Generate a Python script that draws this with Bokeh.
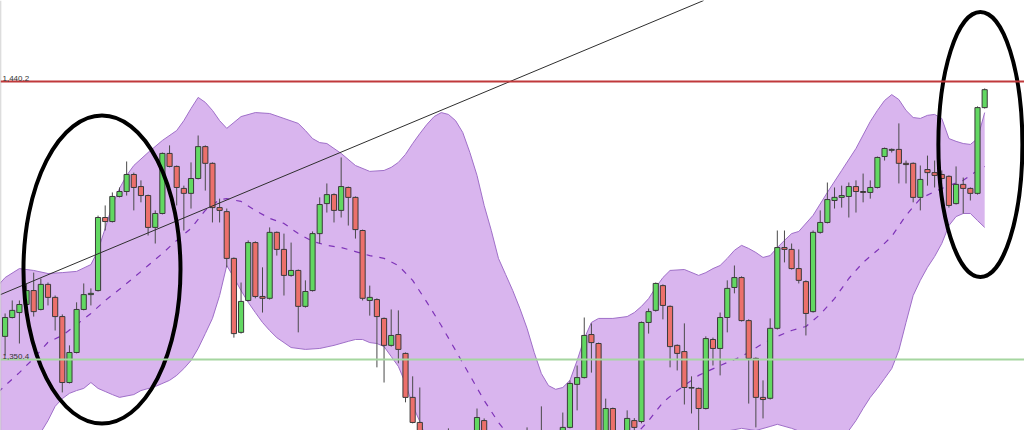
from bokeh.plotting import figure
from bokeh.models import Range1d, Span, Label, ColumnDataSource
from bokeh.embed import file_html
from bokeh.resources import INLINE

# ---------------- data (price values) ----------------
opens = [
    1357.9, 1364.0, 1365.6, 1368.2, 1372.7, 1366.6, 1374.7, 1370.5, 1364.3, 1343.0,
    1352.7, 1366.6, 1371.4, 1372.7, 1396.3, 1395.0, 1403.1, 1404.7, 1410.2, 1406.3,
    1403.4, 1393.1, 1397.6, 1417.0, 1412.8, 1405.7, 1404.1, 1408.9, 1419.2, 1413.8,
    1399.5, 1398.2, 1383.1, 1359.2, 1369.5, 1388.2, 1370.8, 1370.2, 1391.5, 1386.0,
    1377.6, 1379.2, 1367.6, 1372.7, 1391.1, 1400.8, 1403.7, 1398.6, 1406.0, 1402.8,
    1392.1, 1369.5, 1369.8, 1363.7, 1355.0, 1358.5, 1352.4, 1338.2, 1330.1, 1324.0,
    1318.5, 1314.0, 1320.5, 1315.0, 1309.0, 1314.5, 1322.7, 1330.7, 1321.0, 1315.5,
    1310.0, 1316.0, 1311.5, 1319.0, 1314.0, 1320.0, 1325.0, 1318.0, 1323.0, 1328.5,
    1342.4, 1344.6, 1358.5, 1355.6, 1322.0, 1334.6, 1321.0, 1324.0, 1330.7, 1330.4,
    1362.4, 1366.3, 1374.3, 1367.6, 1355.0, 1353.0, 1341.2, 1341.1, 1334.6, 1356.9,
    1354.0, 1364.0, 1373.7, 1376.9, 1363.0, 1350.8, 1338.2, 1337.9, 1360.5, 1386.6,
    1386.0, 1379.8, 1375.6, 1365.9, 1391.5, 1394.7, 1401.8, 1402.8, 1403.1, 1406.3,
    1404.7, 1404.4, 1406.0, 1416.0, 1418.0, 1418.3, 1413.8, 1413.8, 1402.8, 1411.8,
    1410.8, 1410.2, 1409.6, 1400.8, 1407.0, 1405.7, 1404.1, 1431.8,
]
highs = [
    1365.3, 1369.5, 1369.5, 1375.0, 1378.5, 1376.6, 1375.3, 1371.1, 1365.0, 1355.0,
    1368.9, 1375.0, 1373.4, 1396.9, 1400.2, 1404.4, 1406.0, 1414.4, 1410.8, 1408.3,
    1403.7, 1398.6, 1417.3, 1419.6, 1413.1, 1406.6, 1414.1, 1422.8, 1419.6, 1414.1,
    1402.4, 1399.2, 1383.4, 1375.3, 1388.9, 1388.6, 1380.2, 1393.1, 1391.8, 1391.1,
    1388.2, 1379.5, 1376.0, 1391.8, 1402.8, 1407.3, 1404.1, 1415.7, 1406.3, 1403.1,
    1392.4, 1374.3, 1370.2, 1364.0, 1366.6, 1366.3, 1352.7, 1345.0, 1341.4, 1326.5,
    1322.0, 1323.0, 1328.2, 1318.0, 1317.0, 1322.0, 1334.6, 1331.4, 1324.0, 1318.0,
    1319.0, 1320.0, 1322.0, 1328.5, 1322.0, 1335.3, 1327.0, 1325.0, 1333.3, 1343.7,
    1348.5, 1364.0, 1362.1, 1355.9, 1337.8, 1334.9, 1327.0, 1334.0, 1331.5, 1362.7,
    1366.9, 1375.3, 1374.7, 1367.9, 1355.3, 1362.1, 1345.0, 1341.4, 1357.9, 1357.5,
    1365.6, 1376.0, 1380.8, 1377.3, 1363.4, 1351.1, 1343.7, 1363.7, 1392.1, 1392.1,
    1387.9, 1386.0, 1376.0, 1392.1, 1398.6, 1407.6, 1406.0, 1406.6, 1407.6, 1408.3,
    1410.5, 1408.3, 1416.0, 1418.9, 1418.6, 1426.7, 1414.7, 1414.1, 1413.1, 1416.3,
    1414.7, 1411.5, 1409.9, 1412.8, 1409.2, 1406.0, 1432.2, 1438.0,
]
lows = [
    1351.7, 1363.7, 1355.6, 1367.9, 1364.3, 1366.3, 1367.9, 1359.8, 1339.8, 1342.7,
    1352.4, 1366.3, 1367.9, 1372.4, 1392.1, 1394.7, 1402.8, 1403.4, 1398.6, 1401.2,
    1390.5, 1387.9, 1397.3, 1412.5, 1400.2, 1392.1, 1399.2, 1408.6, 1405.0, 1394.7,
    1394.7, 1380.2, 1357.5, 1358.8, 1369.2, 1370.2, 1365.6, 1369.8, 1384.0, 1371.1,
    1377.2, 1359.2, 1367.2, 1372.4, 1387.9, 1397.9, 1394.7, 1396.3, 1393.7, 1389.5,
    1369.5, 1364.6, 1347.9, 1343.0, 1354.6, 1349.2, 1336.6, 1329.8, 1321.1, 1316.0,
    1312.0, 1311.0, 1313.0, 1306.0, 1305.0, 1312.0, 1319.0, 1317.0, 1313.0, 1308.0,
    1307.0, 1309.0, 1310.0, 1312.0, 1311.0, 1316.0, 1316.0, 1315.0, 1320.0, 1328.2,
    1334.0, 1344.3, 1346.2, 1321.0, 1319.0, 1318.0, 1316.0, 1321.0, 1326.0, 1329.8,
    1358.8, 1365.9, 1363.4, 1347.9, 1346.9, 1335.9, 1333.0, 1325.0, 1334.3, 1348.5,
    1345.3, 1359.2, 1371.8, 1362.7, 1336.2, 1328.5, 1331.4, 1337.5, 1360.1, 1381.8,
    1379.5, 1375.0, 1358.2, 1365.6, 1391.1, 1394.4, 1399.2, 1399.5, 1396.3, 1397.9,
    1401.2, 1402.4, 1405.7, 1414.7, 1417.3, 1407.3, 1407.3, 1401.2, 1398.6, 1406.6,
    1406.0, 1405.0, 1399.5, 1400.5, 1397.6, 1401.8, 1403.7, 1431.5,
]
closes = [
    1364.0, 1366.3, 1368.2, 1372.7, 1365.9, 1374.7, 1370.5, 1364.3, 1343.0, 1352.7,
    1366.6, 1371.4, 1371.8, 1396.3, 1395.0, 1403.1, 1404.7, 1410.2, 1406.0, 1403.4,
    1393.1, 1397.6, 1417.0, 1412.8, 1406.0, 1404.1, 1408.9, 1419.2, 1413.8, 1399.5,
    1398.6, 1383.1, 1358.8, 1369.2, 1388.2, 1370.8, 1370.2, 1391.5, 1386.0, 1377.6,
    1379.2, 1367.6, 1372.4, 1391.1, 1400.5, 1403.7, 1398.6, 1406.3, 1402.8, 1392.4,
    1370.2, 1370.5, 1364.3, 1355.0, 1358.2, 1353.7, 1338.2, 1330.1, 1324.3, 1318.0,
    1314.0, 1320.5, 1315.0, 1309.0, 1314.5, 1320.0, 1331.7, 1321.0, 1315.5, 1310.0,
    1316.0, 1311.5, 1319.0, 1314.0, 1320.0, 1325.0, 1318.0, 1323.0, 1328.5, 1342.7,
    1344.6, 1358.2, 1355.9, 1324.3, 1334.6, 1321.0, 1324.0, 1331.4, 1328.5, 1362.4,
    1365.9, 1375.0, 1367.9, 1354.6, 1352.4, 1341.4, 1341.4, 1334.6, 1357.2, 1354.0,
    1364.0, 1373.4, 1376.9, 1363.0, 1350.8, 1338.2, 1337.5, 1360.5, 1386.6, 1386.0,
    1379.8, 1376.0, 1365.3, 1391.5, 1394.7, 1402.1, 1402.8, 1403.4, 1406.3, 1404.7,
    1404.4, 1406.0, 1415.7, 1418.6, 1418.3, 1413.8, 1413.4, 1402.8, 1408.6, 1410.8,
    1409.9, 1408.9, 1400.2, 1407.0, 1405.7, 1404.1, 1431.8, 1437.6,
]

# Bollinger band (bar index -> price)
upper_idx = [-1, 0, 2, 4, 6, 8, 10, 12, 13, 14, 15, 16, 17, 18, 20, 22, 24, 25, 26, 27,
             28, 29, 30, 31, 32, 33, 35, 37, 39, 41, 42, 43, 44, 45, 47, 49, 51, 53, 54, 55,
             56, 57, 58, 59, 60, 61, 62, 63, 64, 65, 66, 67, 68, 69, 70, 71, 72, 73, 74, 75,
             76, 77, 78, 79, 80, 81, 82, 83, 85, 87, 88, 89, 90, 91, 92, 93, 95, 97, 98, 99,
             100, 101, 102, 103, 104, 105, 106, 107, 108, 109, 110, 111, 113, 115, 117, 119,
             121, 122, 123, 124, 125, 126, 127, 128, 129, 130, 131, 132, 133, 134, 135, 136, 137]
upper_val = [1374.3, 1376.9, 1379.8, 1379.2, 1378.2, 1378.5, 1378.9, 1381.1, 1385.7, 1392.8,
             1400.2, 1405.7, 1409.9, 1413.1, 1417.3, 1421.2, 1424.4, 1427.6, 1431.5, 1435.1,
             1433.5, 1430.9, 1427.6, 1425.1, 1427.0, 1428.9, 1430.2, 1429.9, 1428.3, 1426.7,
             1424.4, 1421.8, 1420.5, 1420.2, 1417.0, 1413.1, 1411.2, 1411.5, 1412.5, 1414.1,
             1416.7, 1420.2, 1423.4, 1426.4, 1428.9, 1430.2, 1429.6, 1427.6, 1423.8, 1417.3,
             1409.9, 1400.2, 1392.1, 1383.1, 1377.9, 1372.7, 1366.9, 1360.5, 1352.7, 1345.9,
             1342.0, 1340.8, 1341.4, 1343.7, 1350.1, 1357.2, 1362.4, 1363.7, 1363.7, 1364.3,
             1365.6, 1367.6, 1370.1, 1373.7, 1376.9, 1379.2, 1379.5, 1377.6, 1378.5, 1379.8,
             1380.8, 1383.1, 1385.7, 1387.3, 1386.3, 1385.0, 1383.4, 1384.0, 1386.6, 1388.9,
             1391.1, 1391.8, 1397.0, 1404.4, 1411.5, 1418.6, 1427.3, 1430.9, 1434.1, 1436.0,
             1434.4, 1430.9, 1428.6, 1428.3, 1429.3, 1429.6, 1428.3, 1421.8, 1420.9, 1420.2,
             1419.9, 1421.8, 1430.2]
lower_idx = [-1, 0, 2, 4, 5, 6, 7, 8, 9, 10, 11, 12, 13, 14, 15, 16, 18, 19, 21, 23,
             24, 25, 26, 27, 28, 29, 30, 31, 32, 33, 34, 35, 36, 37, 38, 39, 40, 42, 44, 46,
             48, 49, 50, 51, 52, 53, 54, 55, 56, 57, 58, 59, 60, 62, 64, 66, 70, 75, 80, 85,
             90, 95, 100, 103, 105, 107, 108, 110, 112, 115, 117, 118, 119, 120, 121, 122, 123, 124, 125, 126,
             127, 128, 129, 130, 131, 132, 133, 134, 135, 136, 137]
lower_val = [1321.1, 1322.7, 1324.3, 1325.9, 1326.9, 1330.7, 1335.3, 1337.8, 1339.5, 1340.4,
             1341.1, 1343.0, 1341.1, 1340.1, 1339.1, 1338.2, 1339.1, 1340.4, 1341.7, 1343.7,
             1345.3, 1347.5, 1350.1, 1354.0, 1358.8, 1363.7, 1371.1, 1380.8, 1376.9, 1372.7,
             1368.9, 1365.6, 1362.4, 1359.8, 1357.5, 1355.9, 1354.3, 1353.7, 1354.0, 1355.0,
             1356.3, 1356.9, 1356.9, 1355.9, 1355.6, 1354.6, 1351.4, 1348.2, 1342.7, 1335.6,
             1330.4, 1324.3, 1319.4, 1311.4, 1304.9, 1301.7, 1298.4, 1300.1, 1306.5, 1313.0,
             1319.4, 1324.3, 1326.9, 1328.2, 1327.5, 1328.8, 1329.5, 1328.2, 1326.5, 1325.6,
             1326.5, 1327.5, 1330.7, 1334.6, 1338.2, 1341.1, 1344.3, 1347.5, 1353.4, 1362.4,
             1371.1, 1376.0, 1380.2, 1383.7, 1387.9, 1393.7, 1396.6, 1397.6, 1397.6, 1395.3,
             1393.1]
middle_idx = [-1, 0, 2, 4, 6, 8, 10, 12, 14, 16, 18, 20, 22, 24, 26, 28, 30, 31, 33, 35,
              37, 39, 41, 43, 45, 47, 49, 51, 53, 55, 57, 59, 61, 63, 65, 67, 69, 71, 73, 76,
              79, 82, 85, 87, 89, 90, 92, 94, 97, 100, 103, 106, 108, 110, 112, 114, 116, 118, 120, 122,
              124, 126, 128, 130, 132, 134, 136, 137]
middle_val = [1339.8, 1342.0, 1346.2, 1350.8, 1356.0, 1358.2, 1361.7, 1365.3, 1369.5, 1373.1,
              1376.9, 1380.8, 1384.7, 1388.9, 1392.8, 1398.6, 1402.1, 1402.4, 1401.5, 1398.6,
              1396.0, 1394.4, 1391.1, 1388.6, 1387.3, 1386.6, 1385.3, 1384.0, 1383.1, 1380.8,
              1376.0, 1368.9, 1361.4, 1353.4, 1345.3, 1337.2, 1330.1, 1324.3, 1319.4, 1314.6,
              1312.0, 1313.0, 1317.8, 1322.7, 1328.2, 1330.7, 1336.6, 1340.4, 1345.3, 1348.5,
              1351.4, 1355.6, 1357.9, 1359.8, 1361.1, 1365.0, 1370.1, 1376.6, 1381.8, 1385.7,
              1390.2, 1397.0, 1402.4, 1404.7, 1406.6, 1408.3, 1411.5, 1412.8]

# horizontal levels and their labels
levels = [1440.2, 1350.4]
level_labels = ["1,440.2", "1,350.4"]

# drawn trend line (bar index, price)
trend_x = [-0.64, 97.7]
trend_y = [1371.4, 1466.4]

# highlight ellipses (centre bar index, centre price, width in bars, height in price)
ell_x = [13.55, 136.4]
ell_y = [1379.5, 1419.9]
ell_w = [21.96, 11.75]
ell_h = [99.5, 85.6]

# ---------------- figure ----------------
p = figure(width=1024, height=430, output_backend="svg", toolbar_location=None,
           x_range=Range1d(-0.643, 142.57), y_range=Range1d(1327.5, 1466.4),
           min_border=0, background_fill_color="white", border_fill_color="white")
p.axis.visible = False
p.grid.visible = False
p.outline_line_color = None

# band fill
band_x = upper_idx + lower_idx[::-1]
band_y = upper_val + lower_val[::-1]
p.patch(band_x, band_y, fill_color="#D9B5EE", fill_alpha=1.0, line_color=None)
p.line(upper_idx, upper_val, line_color="#9F6FC8", line_width=1)
p.line(lower_idx, lower_val, line_color="#9F6FC8", line_width=1)
p.line(middle_idx, middle_val, line_color="#7E33B8", line_width=1.2, line_dash="6 7")

# left border
p.add_layout(Span(location=-0.62, dimension="height", line_color="#B0B0B0", line_width=1))

# level lines
p.add_layout(Span(location=levels[0], dimension="width", line_color="#C0393B", line_width=2))
p.add_layout(Span(location=levels[1], dimension="width", line_color="#A5D6A0", line_width=2))
for lv, txt in zip(levels, level_labels):
    p.add_layout(Label(x=2, y=lv, x_units="screen", text=txt, text_font_size="8px",
                       text_font="Liberation Sans", text_color="#333333",
                       text_baseline="bottom", y_offset=1))

# candles
idx = list(range(len(opens)))
up = [c >= o for o, c in zip(opens, closes)]
src = ColumnDataSource(dict(
    x=idx,
    high=highs, low=lows,
    top=[max(o, c) for o, c in zip(opens, closes)],
    bottom=[min(o, c) for o, c in zip(opens, closes)],
    color=["#62D862" if u else "#EC706B" for u in up],
))
p.segment(x0="x", y0="high", x1="x", y1="low", source=src, line_color="#4A4A4A", line_width=1)
p.vbar(x="x", width=0.72, top="top", bottom="bottom", source=src,
       fill_color="color", line_color="#3A3A3A", line_width=1)

# trend line
p.line(trend_x, trend_y, line_color="#2E2E2E", line_width=1)

# ellipses
p.ellipse(x=ell_x, y=ell_y, width=ell_w, height=ell_h, fill_color=None,
          line_color="black", line_width=4)

open("out.html", "w").write(file_html(p, INLINE))
